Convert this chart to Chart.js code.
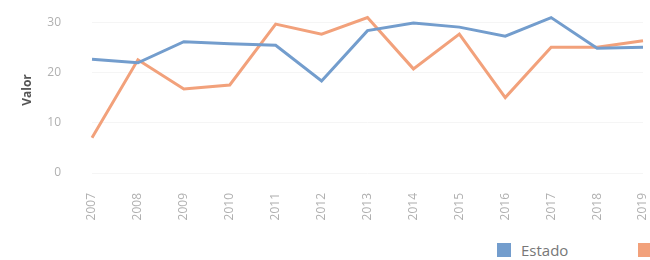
<!DOCTYPE html>
<html>
<head>
<meta charset="utf-8">
<script src="https://cdn.jsdelivr.net/npm/chart.js@4/dist/chart.umd.min.js"></script>
<style>
  html, body { margin: 0; padding: 0; background: #fff; width: 650px; height: 260px; overflow: hidden; }
  #wrap { position: absolute; left: 0; top: 0; width: 650px; height: 230px; }
  .leg { position: absolute; top: 243px; font-family: "Open Sans", sans-serif; font-size: 15px; color: #777; white-space: nowrap; line-height: 14px; }
  .leg .box { display: inline-block; width: 14px; height: 14px; vertical-align: -1px; margin-right: 10px; }
</style>
</head>
<body>
<div id="wrap"><canvas id="c"></canvas></div>
<div class="leg" style="left:497px"><span class="box" style="background:#739dcd"></span>Estado</div>
<div class="leg" style="left:638px"><span class="box" style="background:#f2a17b"></span>Brasil</div>
<script>
const years = ['2007','2008','2009','2010','2011','2012','2013','2014','2015','2016','2017','2018','2019'];
const estado = [22.6, 21.9, 26.1, 25.7, 25.4, 18.3, 28.3, 29.8, 29.0, 27.2, 30.9, 24.8, 25.0];
const brasil = [7.0, 22.5, 16.7, 17.5, 29.6, 27.6, 30.9, 20.7, 27.6, 15.0, 25.0, 25.0, 26.3];
const seriesNames = ['Estado', 'Brasil'];
const yTicks = [0, 10, 20, 30];

new Chart(document.getElementById('c'), {
  type: 'line',
  data: {
    labels: years,
    datasets: [
      { label: seriesNames[0], data: estado, borderColor: '#739dcd', backgroundColor: '#739dcd', borderWidth: 3, pointRadius: 0, tension: 0 },
      { label: seriesNames[1], data: brasil, borderColor: '#f2a17b', backgroundColor: '#f2a17b', borderWidth: 3, pointRadius: 0, tension: 0 }
    ]
  },
  options: {
    responsive: true,
    maintainAspectRatio: false,
    animation: false,
    layout: { padding: { top: 7, right: 7, left: 0, bottom: 0 } },
    plugins: { legend: { display: false }, tooltip: { enabled: false } },
    scales: {
      x: {
        grid: { display: false },
        border: { display: false },
        ticks: { minRotation: 90, maxRotation: 90, padding: 12, color: '#b0b0b0', font: { family: 'Open Sans', size: 12 } },
        afterFit: s => { s.height = 57; s.paddingLeft = 0; s.paddingRight = 0; }
      },
      y: {
        min: 0, max: 33,
        afterBuildTicks: s => { s.ticks = yTicks.map(v => ({ value: v })); },
        grid: { color: '#f5f5f5', drawTicks: false },
        border: { display: false },
        ticks: { padding: 31, color: '#b0b0b0', font: { family: 'Open Sans', size: 12 } },
        title: { display: true, text: 'Valor', color: '#555', font: { family: 'Open Sans', size: 12, weight: 'bold' }, padding: { top: 20, bottom: 0 } },
        afterFit: s => { s.width = 92; s.paddingTop = 0; s.paddingBottom = 0; }
      }
    }
  }
});
</script>
</body>
</html>
